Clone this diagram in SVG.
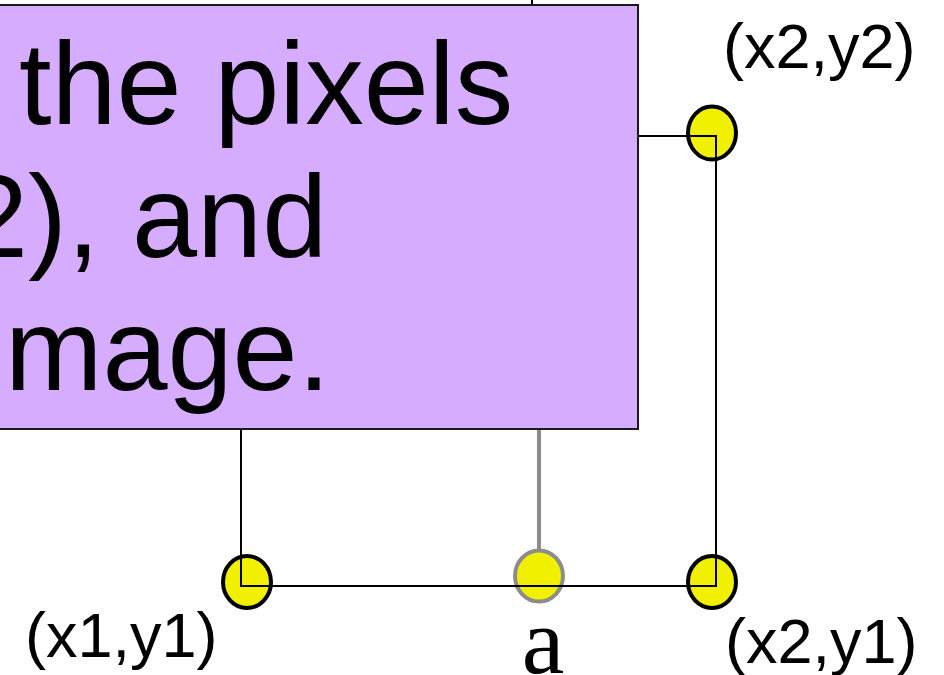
<svg xmlns="http://www.w3.org/2000/svg" width="944" height="675" viewBox="0 0 944 675">
<style>
.pt{fill:#f0f000;stroke:#000;stroke-width:4}
.pta{fill:#f0f000;stroke:#8c8c8c;stroke-width:4}
.ln{stroke:#000;stroke-width:2;fill:none}
.lg{stroke:#8c8c8c;stroke-width:4;fill:none}
.big{font-family:"Liberation Sans",Arial,sans-serif;font-size:117px;fill:#000}
.lbl{font-family:"Liberation Sans",Arial,sans-serif;font-size:63px;fill:#000}
.ser{font-family:"Liberation Serif","Times New Roman",serif;font-size:96px;fill:#000}
</style>
<rect width="944" height="675" fill="#fff"/>
<g id="p-x1y1"><ellipse class="pt" cx="247" cy="582" rx="24" ry="26"/></g>
<g id="p-a"><ellipse class="pta" cx="539" cy="576" rx="24" ry="25.5"/></g>
<g id="p-x2y1"><ellipse class="pt" cx="712" cy="582" rx="24" ry="26"/></g>
<g id="p-x2y2"><ellipse class="pt" cx="712" cy="133" rx="24" ry="26.5"/></g>
<g id="connectors">
<polyline class="ln" points="241,420 241,586 716,586 716,136 630,136"/>
<line class="lg" x1="539" y1="425" x2="539" y2="551"/>
<line class="ln" x1="532" y1="0" x2="532" y2="10"/>
</g>
<g id="box">
<rect x="-10" y="5" width="648" height="424" fill="#d6acff" stroke="#1a1a1a" stroke-width="2"/>
<text class="big" x="19" y="124">the pixels</text>
<text class="big" x="-37" y="257">2), and</text>
<text class="big" x="5" y="390">mage.</text>
</g>
<g id="l-x2y2"><text class="lbl" x="723" y="68">(x2,y2)</text></g>
<g id="l-x1y1"><text class="lbl" x="25" y="657">(x1,y1)</text></g>
<g id="l-x2y1"><text class="lbl" x="725" y="663">(x2,y1)</text></g>
<g id="l-a"><text class="ser" x="543" y="673" text-anchor="middle">a</text></g>
</svg>
